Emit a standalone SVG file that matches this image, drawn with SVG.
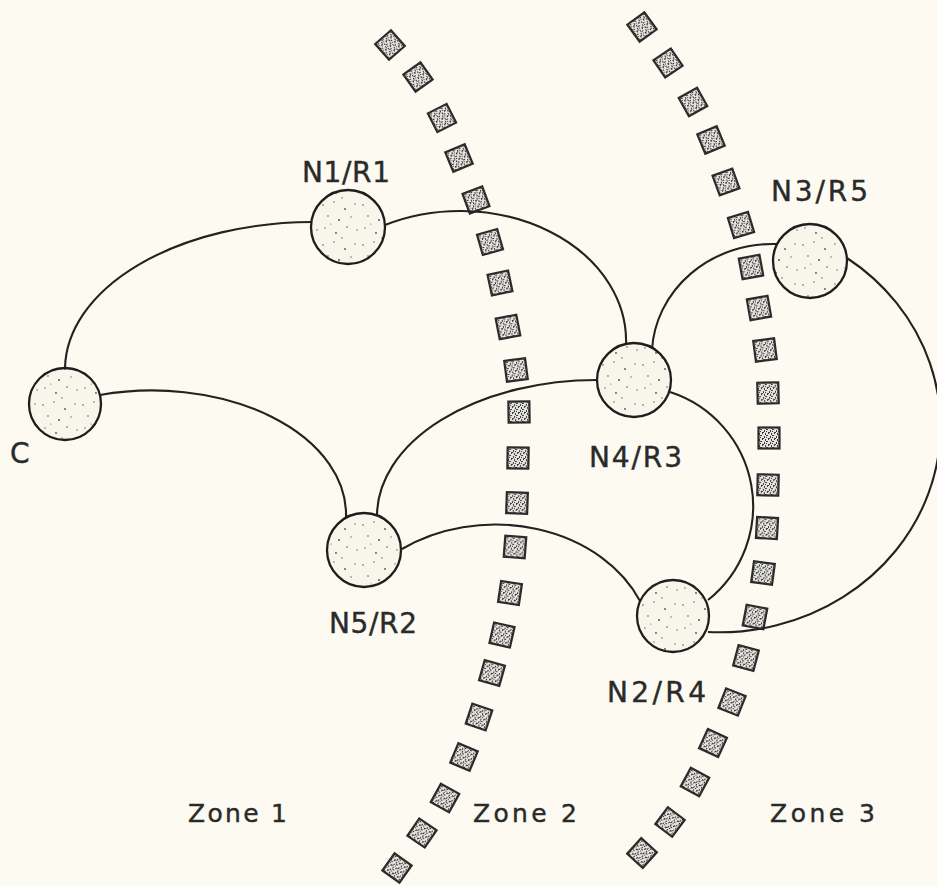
<svg xmlns="http://www.w3.org/2000/svg" xmlns:xlink="http://www.w3.org/1999/xlink" width="937" height="886" viewBox="0 0 937 886">
  <style>
    .edge { fill: none; stroke: #222; stroke-width: 2.1; }
    .node circle { fill: url(#stipple); stroke: #1e1e1e; stroke-width: 2.3; }
    .label { font-family: "DejaVu Sans", "Liberation Sans", sans-serif; font-size: 28px; fill: #2a2a2a; stroke: #2a2a2a; stroke-width: 0.4; }
    .zone { font-family: "DejaVu Sans", "Liberation Sans", sans-serif; font-size: 25px; fill: #2a2a2a; stroke: #2a2a2a; stroke-width: 0.4; }
    .tile { fill: url(#grain); stroke: #2b2b2b; stroke-width: 2.2; }
  </style>
  <defs>
    <!-- light speckled fill for the node discs -->
    <pattern id="stipple" width="40" height="40" patternUnits="userSpaceOnUse">
      <rect width="40" height="40" fill="#f8f5ea"/>
      <g fill="#555">
        <circle cx="3" cy="5" r="0.8"/>
        <circle cx="14" cy="2" r="0.7"/>
        <circle cx="25" cy="9" r="0.9"/>
        <circle cx="35" cy="4" r="0.7"/>
        <circle cx="8" cy="16" r="0.8"/>
        <circle cx="19" cy="20" r="1"/>
        <circle cx="31" cy="17" r="0.7"/>
        <circle cx="5" cy="28" r="0.7"/>
        <circle cx="16" cy="33" r="0.9"/>
        <circle cx="27" cy="27" r="0.8"/>
        <circle cx="37" cy="30" r="0.7"/>
        <circle cx="22" cy="38" r="0.7"/>
        <circle cx="11" cy="24" r="0.6"/>
      </g>
    </pattern>
    <!-- coarse grey grain for the boundary tiles -->
    <pattern id="grain" width="6" height="6" patternUnits="userSpaceOnUse">
      <rect width="6" height="6" fill="#e6e4de"/>
      <g fill="#3a3a3a">
        <rect x="0" y="0" width="2" height="1"/>
        <rect x="3" y="1" width="1" height="2"/>
        <rect x="1" y="3" width="2" height="1"/>
        <rect x="4" y="4" width="2" height="1"/>
        <rect x="0" y="5" width="1" height="1"/>
        <rect x="5" y="2" width="1" height="1"/>
      </g>
    </pattern>
    <rect id="t" class="tile" x="-10.5" y="-10.5" width="21" height="21"/>
  </defs>

  <rect width="937" height="886" fill="#fcfaf1"/>

  <!-- zone boundary between Zone 1 and Zone 2 -->
  <g id="boundary-1">
    <use xlink:href="#t" transform="translate(390,45) rotate(48.8)"/>
    <use xlink:href="#t" transform="translate(418,77) rotate(54.5)"/>
    <use xlink:href="#t" transform="translate(442,118) rotate(63.2)"/>
    <use xlink:href="#t" transform="translate(459,158) rotate(67.5)"/>
    <use xlink:href="#t" transform="translate(476,200) rotate(69.7)"/>
    <use xlink:href="#t" transform="translate(490,242) rotate(73.9)"/>
    <use xlink:href="#t" transform="translate(500,283) rotate(78)"/>
    <use xlink:href="#t" transform="translate(508,327) rotate(79)"/>
    <use xlink:href="#t" transform="translate(516,370) rotate(82.5)"/>
    <use xlink:href="#t" transform="translate(519,412) rotate(89.3)"/>
    <use xlink:href="#t" transform="translate(518,458) rotate(91)"/>
    <use xlink:href="#t" transform="translate(517,503) rotate(92)"/>
    <use xlink:href="#t" transform="translate(515,547) rotate(94.4)"/>
    <use xlink:href="#t" transform="translate(510,593) rotate(98.4)"/>
    <use xlink:href="#t" transform="translate(502,635) rotate(102.7)"/>
    <use xlink:href="#t" transform="translate(492,673) rotate(105.7)"/>
    <use xlink:href="#t" transform="translate(479,717) rotate(108.4)"/>
    <use xlink:href="#t" transform="translate(464,757) rotate(112.8)"/>
    <use xlink:href="#t" transform="translate(445,798) rotate(118.9)"/>
    <use xlink:href="#t" transform="translate(422,833) rotate(124.4)"/>
    <use xlink:href="#t" transform="translate(397,868) rotate(125.5)"/>
  </g>

  <!-- zone boundary between Zone 2 and Zone 3 -->
  <g id="boundary-2">
    <use xlink:href="#t" transform="translate(642,27) rotate(54.2)"/>
    <use xlink:href="#t" transform="translate(668,63) rotate(55.8)"/>
    <use xlink:href="#t" transform="translate(693,102) rotate(60.8)"/>
    <use xlink:href="#t" transform="translate(711,140) rotate(67.6)"/>
    <use xlink:href="#t" transform="translate(726,182) rotate(70)"/>
    <use xlink:href="#t" transform="translate(741,225) rotate(73)"/>
    <use xlink:href="#t" transform="translate(751,267) rotate(79.6)"/>
    <use xlink:href="#t" transform="translate(759,308) rotate(80)"/>
    <use xlink:href="#t" transform="translate(765,350) rotate(82.6)"/>
    <use xlink:href="#t" transform="translate(768,393) rotate(88.7)"/>
    <use xlink:href="#t" transform="translate(769,438) rotate(90)"/>
    <use xlink:href="#t" transform="translate(768,485) rotate(91.3)"/>
    <use xlink:href="#t" transform="translate(767,528) rotate(93.3)"/>
    <use xlink:href="#t" transform="translate(763,573) rotate(97.7)"/>
    <use xlink:href="#t" transform="translate(755,617) rotate(100.8)"/>
    <use xlink:href="#t" transform="translate(746,658) rotate(105)"/>
    <use xlink:href="#t" transform="translate(732,702) rotate(111.6)"/>
    <use xlink:href="#t" transform="translate(713,743) rotate(114.8)"/>
    <use xlink:href="#t" transform="translate(695,782) rotate(118.6)"/>
    <use xlink:href="#t" transform="translate(670,822) rotate(126.7)"/>
    <use xlink:href="#t" transform="translate(642,853) rotate(132)"/>
  </g>

  <!-- links between nodes -->
  <g id="connectors">
    <path class="edge" d="M65,368 A248,148 0 0 1 312,222"/>
    <path class="edge" d="M385,225 A166,130 0 0 1 626,345"/>
    <path class="edge" d="M100,395 A194,124 0 0 1 346,517"/>
    <path class="edge" d="M377,516 A220,136 0 0 1 598,380"/>
    <path class="edge" d="M402,549 A157,125 0 0 1 640,601"/>
    <path class="edge" d="M670,392 A120,120 0 0 1 708,600"/>
    <path class="edge" d="M652,350 A121,112 0 0 1 777,244"/>
    <path class="edge" d="M847,258 A221,206 0 0 1 708,632"/>
  </g>

  <g id="node-C" class="node">
    <circle cx="65" cy="404" r="36"/>
    <text class="label" x="10" y="463">C</text>
  </g>
  <g id="node-N1" class="node">
    <circle cx="348" cy="227" r="37"/>
    <text class="label" x="302" y="182" textLength="88" lengthAdjust="spacing">N1/R1</text>
  </g>
  <g id="node-N3" class="node">
    <circle cx="810" cy="261" r="37"/>
    <text class="label" x="771" y="201" textLength="97" lengthAdjust="spacing">N3/R5</text>
  </g>
  <g id="node-N4" class="node">
    <circle cx="634" cy="380" r="37"/>
    <text class="label" x="589" y="467" textLength="93" lengthAdjust="spacing">N4/R3</text>
  </g>
  <g id="node-N5" class="node">
    <circle cx="364" cy="550" r="37"/>
    <text class="label" x="329" y="633" textLength="88" lengthAdjust="spacing">N5/R2</text>
  </g>
  <g id="node-N2" class="node">
    <circle cx="673" cy="616" r="36"/>
    <text class="label" x="607" y="702" textLength="99" lengthAdjust="spacing">N2/R4</text>
  </g>

  <g id="zone-labels">
    <text class="zone" x="188" y="822" textLength="99" lengthAdjust="spacing">Zone 1</text>
    <text class="zone" x="473" y="822" textLength="104" lengthAdjust="spacing">Zone 2</text>
    <text class="zone" x="770" y="822" textLength="105" lengthAdjust="spacing">Zone 3</text>
  </g>
</svg>
